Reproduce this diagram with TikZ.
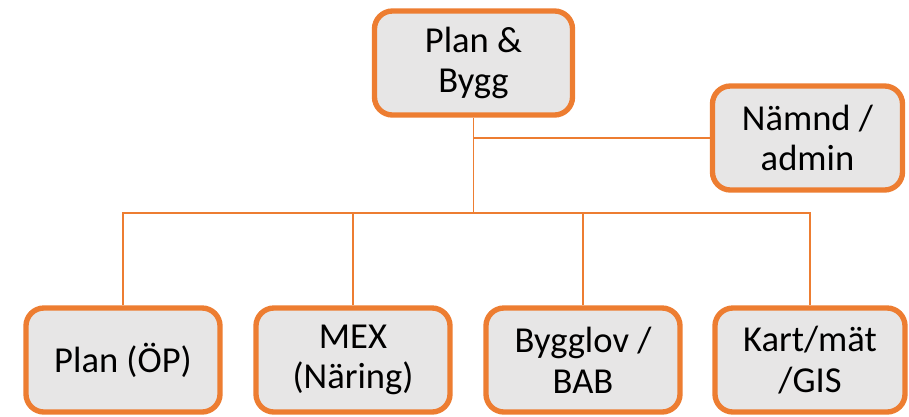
\documentclass[tikz,border=0pt]{standalone}
\usepackage{fontspec}
\setmainfont{Carlito}
\definecolor{boxorange}{HTML}{ED7D31}
\definecolor{boxgray}{HTML}{E7E6E6}
\tikzset{
  unit/.style={draw=boxorange, line width=3.8pt, fill=boxgray, rounded corners=0.45cm,
    align=center, font=\fontsize{26}{29}\selectfont, inner sep=0pt},
  conn/.style={draw=boxorange, line width=1.2pt}
}
\begin{document}
\begin{tikzpicture}[x=0.025cm, y=-0.025cm]
\useasboundingbox (0,0) rectangle (909,416);
\node[unit, minimum width=4.95cm, minimum height=2.6cm] (bygg) at (473.5,63){Plan \&\\Bygg};
\node[unit, minimum width=4.75cm, minimum height=2.6cm] (namnd) at (807.5,138){Nämnd /\\admin};
\node[unit, minimum width=4.85cm, minimum height=2.6cm] (plan) at (123,360){Plan (ÖP)};
\node[unit, minimum width=4.85cm, minimum height=2.6cm] (mex) at (353,360){MEX\\(Näring)};
\node[unit, minimum width=4.85cm, minimum height=2.6cm] (bygglov) at (583,360){Bygglov /\\BAB};
\node[unit, minimum width=4.75cm, minimum height=2.6cm] (kart) at (810,360){Kart/mät\\/GIS};
\coordinate (bus) at (473.5,213);
\draw[conn] (bygg.south) -- (bus);
\draw[conn] (namnd.west) -- (namnd.west -| bygg.south);
\draw[conn] (plan.north) |- (bus);
\draw[conn] (mex.north) |- (bus);
\draw[conn] (bygglov.north) |- (bus);
\draw[conn] (kart.north) |- (bus);
\end{tikzpicture}
\end{document}
